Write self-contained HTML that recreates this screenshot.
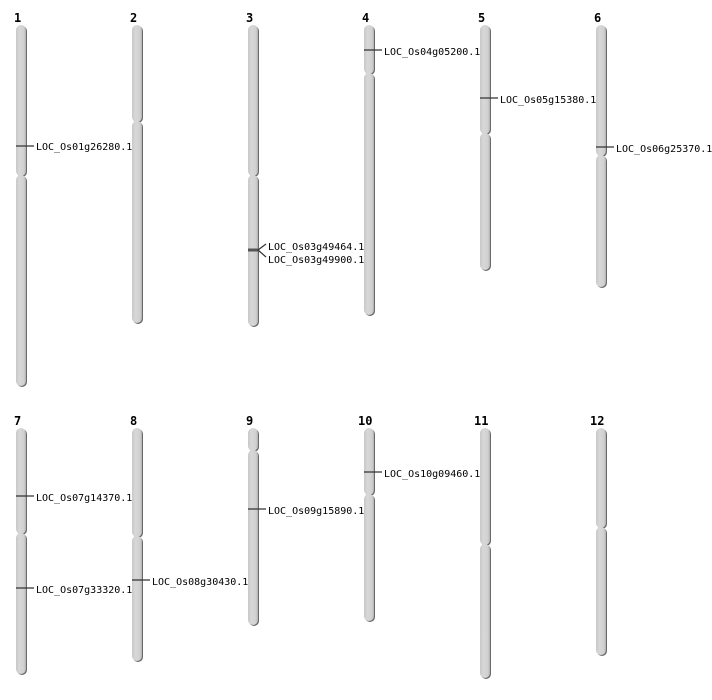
<!DOCTYPE html>
<html><head><meta charset="utf-8"><style>
html,body{margin:0;padding:0;background:#fff;}
svg{display:block;}
.n{font-family:"DejaVu Sans Mono","Liberation Mono",monospace;font-size:12px;font-weight:bold;fill:#000;}
.l{font-family:"DejaVu Sans Mono","Liberation Mono",monospace;font-size:10px;fill:#000;}
</style></head><body>
<svg id="s" width="712" height="700" viewBox="0 0 712 700" xmlns="http://www.w3.org/2000/svg">
<defs>
<linearGradient id="g" x1="0" x2="1" y1="0" y2="0">
<stop offset="0" stop-color="#c8c8c8"/><stop offset="0.35" stop-color="#d8d8d8"/><stop offset="0.8" stop-color="#d0d0d0"/><stop offset="1" stop-color="#b0b0b0"/>
</linearGradient>
</defs>
<g id="chr"></g>
<g stroke="#333" stroke-width="1.2">
<line x1="16" y1="146" x2="34" y2="146"/>
<line x1="248" y1="250" x2="258" y2="250" stroke-width="3" stroke="#555"/>
<line x1="258" y1="250" x2="266" y2="244"/>
<line x1="258" y1="250" x2="266" y2="257"/>
<line x1="364" y1="50" x2="382" y2="50"/>
<line x1="480" y1="98" x2="498" y2="98"/>
<line x1="596" y1="147" x2="614" y2="147"/>
<line x1="16" y1="496" x2="34" y2="496"/>
<line x1="16" y1="588" x2="34" y2="588"/>
<line x1="132" y1="580" x2="150" y2="580"/>
<line x1="248" y1="509" x2="266" y2="509"/>
<line x1="364" y1="472" x2="382" y2="472"/>
</g>
<g>
<text class="n" x="14" y="22">1</text>
<text class="n" x="130" y="22">2</text>
<text class="n" x="246" y="22">3</text>
<text class="n" x="362" y="22">4</text>
<text class="n" x="478" y="22">5</text>
<text class="n" x="594" y="22">6</text>
<text class="n" x="14" y="425">7</text>
<text class="n" x="130" y="425">8</text>
<text class="n" x="246" y="425">9</text>
<text class="n" x="358" y="425">10</text>
<text class="n" x="474" y="425">11</text>
<text class="n" x="590" y="425">12</text>
<text class="l" x="36" y="150">LOC_Os01g26280.1</text>
<text class="l" x="268" y="250">LOC_Os03g49464.1</text>
<text class="l" x="268" y="263">LOC_Os03g49900.1</text>
<text class="l" x="384" y="55">LOC_Os04g05200.1</text>
<text class="l" x="500" y="103">LOC_Os05g15380.1</text>
<text class="l" x="616" y="152">LOC_Os06g25370.1</text>
<text class="l" x="36" y="501">LOC_Os07g14370.1</text>
<text class="l" x="36" y="593">LOC_Os07g33320.1</text>
<text class="l" x="152" y="585">LOC_Os08g30430.1</text>
<text class="l" x="268" y="514">LOC_Os09g15890.1</text>
<text class="l" x="384" y="477">LOC_Os10g09460.1</text>
</g>
</svg>
<script>
var d=[[16,25,176,386],[132,25,122,323],[248,25,176,326],[364,25,74,315],[480,25,134,270],[596,25,156,287],
[16,428,534,674],[132,428,537,661],[248,428,451,625],[364,428,495,621],[480,428,545,678],[596,428,528,655]];
var g=document.getElementById('chr'),h='';
function seg(x,a,b){
h+='<rect x="'+(x+1)+'" y="'+(a+1)+'" width="10" height="'+(b-a)+'" rx="5" fill="#6a6a6a"/>';
h+='<rect x="'+x+'" y="'+a+'" width="10" height="'+(b-a)+'" rx="5" fill="url(#g)"/>';
}
d.forEach(function(c){seg(c[0],c[1],c[2]);seg(c[0],c[2]-1,c[3]);});
g.innerHTML=h;
</script>
</body></html>
